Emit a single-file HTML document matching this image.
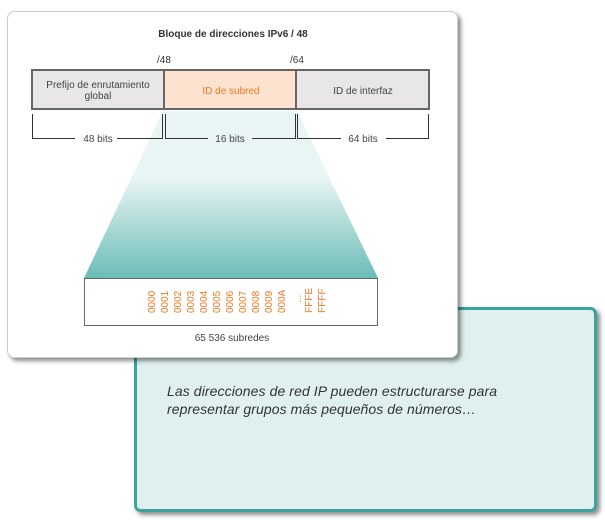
<!DOCTYPE html>
<html><head><meta charset="utf-8"><style>
html,body{margin:0;padding:0;background:#fff;}
svg{display:block;font-family:"Liberation Sans",Arial,sans-serif;}
</style></head><body>
<svg width="605" height="528" viewBox="0 0 605 528" xmlns="http://www.w3.org/2000/svg">
<defs>
<linearGradient id="tz" x1="0" y1="0" x2="0" y2="1">
<stop offset="0" stop-color="#e8f5f4"/>
<stop offset="0.4" stop-color="#e8f5f4"/>
<stop offset="1" stop-color="#6bbcb7"/>
</linearGradient>
<filter id="sh" x="-5%" y="-5%" width="115%" height="115%"><feDropShadow dx="3" dy="3" stdDeviation="2" flood-color="#000" flood-opacity="0.45"/></filter>
</defs>
<rect x="135.5" y="308.5" width="460" height="202" rx="5" fill="#dff0ef" stroke="#3aa39c" stroke-width="3" filter="url(#sh)"/>
<text x="167" y="396" font-size="14" font-style="italic" fill="#333" textLength="330">Las direcciones de red IP pueden estructurarse para</text>
<text x="167" y="414" font-size="14" font-style="italic" fill="#333" textLength="309">representar grupos más pequeños de números…</text>
<rect x="7.5" y="11.5" width="450" height="346" rx="7" fill="#fff" stroke="#ccc" stroke-width="1" filter="url(#sh)"/>
<text x="233" y="37" font-size="10" font-weight="bold" fill="#333" text-anchor="middle">Bloque de direcciones IPv6 / 48</text>
<text x="157" y="63" font-size="10" fill="#333">/48</text>
<text x="290" y="63" font-size="10" fill="#333">/64</text>
<polygon points="163,111 297,111 378,278 84,278" fill="url(#tz)"/>
<rect x="32" y="70" width="132" height="39" fill="#e8e6e7" stroke="#666" stroke-width="2"/>
<rect x="164" y="70" width="132" height="39" fill="#fde3cf" stroke="#666" stroke-width="2"/>
<rect x="296" y="70" width="133" height="39" fill="#e8e6e7" stroke="#666" stroke-width="2"/>
<text x="98" y="88" font-size="10" fill="#444" text-anchor="middle">Prefijo de enrutamiento</text>
<text x="98" y="99" font-size="10" fill="#444" text-anchor="middle">global</text>
<text x="231" y="94" font-size="10" fill="#f07722" text-anchor="middle">ID de subred</text>
<text x="363" y="94" font-size="10" fill="#444" text-anchor="middle">ID de interfaz</text>
<g stroke="#333" stroke-width="1" fill="none">
<path d="M32.5,114 V138.5 H75 M117,138.5 H162.5 V114"/>
<path d="M165.5,114 V138.5 H208 M252,138.5 H295.5 V114"/>
<path d="M297.5,114 V138.5 H341 M386,138.5 H428.5 V114"/>
</g>
<text x="98" y="142" font-size="10" fill="#444" text-anchor="middle">48 bits</text>
<text x="230" y="142" font-size="10" fill="#444" text-anchor="middle">16 bits</text>
<text x="363" y="142" font-size="10" fill="#444" text-anchor="middle">64 bits</text>
<rect x="84.5" y="278.5" width="293" height="47" fill="#fff" stroke="#666" stroke-width="1"/>
<g font-size="10" fill="#f07722">
<text transform="translate(155,313) rotate(-90)">0000</text>
<text transform="translate(168,313) rotate(-90)">0001</text>
<text transform="translate(181,313) rotate(-90)">0002</text>
<text transform="translate(194,313) rotate(-90)">0003</text>
<text transform="translate(207,313) rotate(-90)">0004</text>
<text transform="translate(220,313) rotate(-90)">0005</text>
<text transform="translate(233,313) rotate(-90)">0006</text>
<text transform="translate(246,313) rotate(-90)">0007</text>
<text transform="translate(259,313) rotate(-90)">0008</text>
<text transform="translate(272,313) rotate(-90)">0009</text>
<text transform="translate(285,313) rotate(-90)">000A</text>
<text transform="translate(301,303) rotate(-90)">...</text>
<text transform="translate(312,313) rotate(-90)">FFFE</text>
<text transform="translate(325,313) rotate(-90)">FFFF</text>
</g>
<text x="232" y="341" font-size="10" fill="#444" text-anchor="middle">65 536 subredes</text>
</svg>
</body></html>
